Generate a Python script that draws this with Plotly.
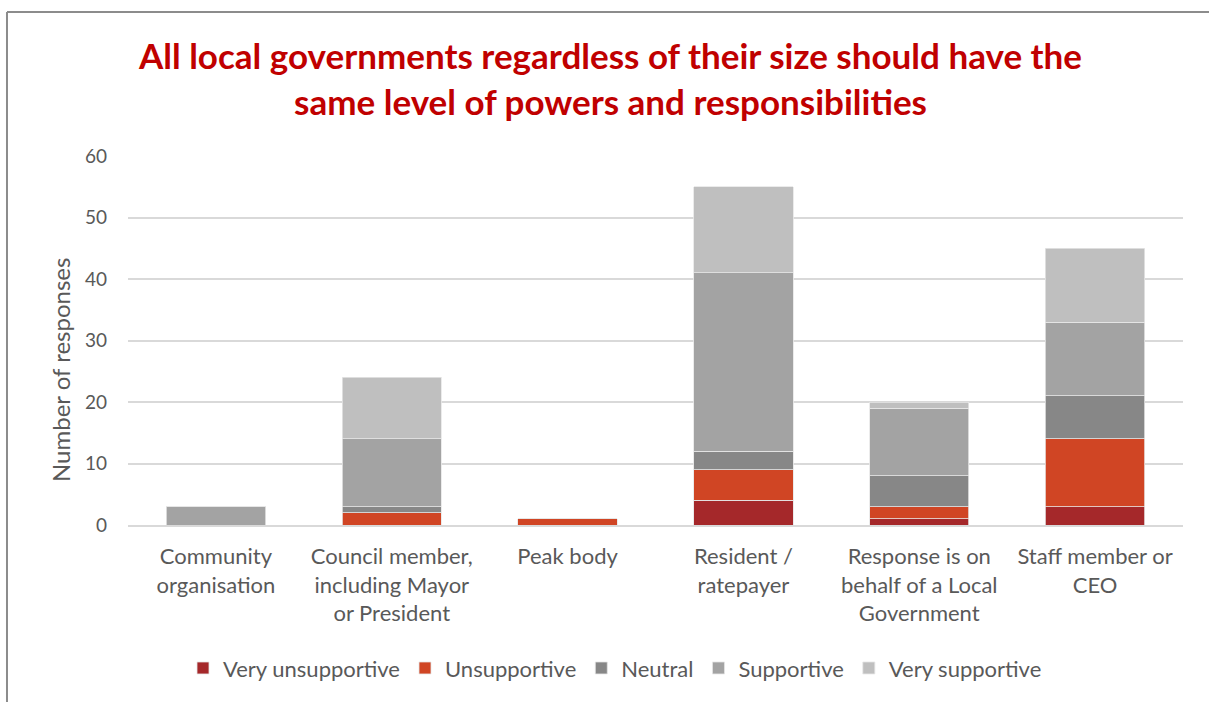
import plotly.graph_objects as go

categories = ["Community<br>organisation", "Council member,<br>including Mayor<br>or President",
              "Peak body", "Resident /<br>ratepayer", "Response is on<br>behalf of a Local<br>Government",
              "Staff member or<br>CEO"]
very_unsupportive = [0, 0, 0, 4, 1, 3]
unsupportive = [0, 2, 1, 5, 2, 11]
neutral = [0, 1, 0, 3, 5, 7]
supportive = [3, 11, 0, 29, 11, 12]
very_supportive = [0, 10, 0, 14, 1, 12]

series = [
    ("Very unsupportive", very_unsupportive, "#A5282A"),
    ("Unsupportive", unsupportive, "#D04524"),
    ("Neutral", neutral, "#878787"),
    ("Supportive", supportive, "#A3A3A3"),
    ("Very supportive", very_supportive, "#BFBFBF"),
]

FONT = "Lato, Carlito, Calibri, sans-serif"
fig = go.Figure()
for name, vals, col in series:
    fig.add_trace(go.Bar(x=categories, y=vals, name=name,
                         marker=dict(color=col, line=dict(color="#E6E6E6", width=0.8)),
                         width=0.565))

fig.update_layout(
    barmode="stack",
    width=1209, height=702,
    margin=dict(l=128, r=26, t=156, b=177),
    paper_bgcolor="white", plot_bgcolor="white",
    font=dict(family=FONT, color="#595959", size=22),
    title=dict(text="<b>All local governments regardless of their size should have the<br>same level of powers and responsibilities</b>",
               x=0.505, xanchor="center", y=1 - 69 / 702, yanchor="middle",
               font=dict(family=FONT, size=35, color="#C00000")),
    legend=dict(orientation="h", x=(615 - 128) / 1055, xanchor="center", y=-0.388, yanchor="middle",
                font=dict(size=22, color="#595959"), traceorder="normal",
                itemwidth=30),
    bargap=0.435,
    shapes=[
        dict(type="line", xref="paper", yref="paper", x0=-0.1147, x1=1.03, y0=1.390, y1=1.390,
             line=dict(color="#8C8C8C", width=2)),
        dict(type="line", xref="paper", yref="paper", x0=-0.1147, x1=-0.1147, y0=1.390, y1=-0.5,
             line=dict(color="#8C8C8C", width=2)),
    ],
    annotations=[
        dict(text="Number of responses", xref="paper", yref="paper",
             x=(60 - 128) / 1055, y=(525 - 370) / 369, xanchor="center", yanchor="middle",
             textangle=-90, showarrow=False, font=dict(size=24, color="#595959")),
    ],
)
fig.update_yaxes(range=[0, 60], dtick=10, showgrid=True, gridcolor="#D9D9D9", gridwidth=1.5,
                 zeroline=False, showline=False, ticklabelstandoff=20,
                 tickfont=dict(size=19, color="#595959"))
fig.update_xaxes(showline=True, linecolor="#D9D9D9", linewidth=1.5, ticklabelstandoff=11,
                 tickfont=dict(size=22, color="#595959"))

fig.write_html("out.html")
